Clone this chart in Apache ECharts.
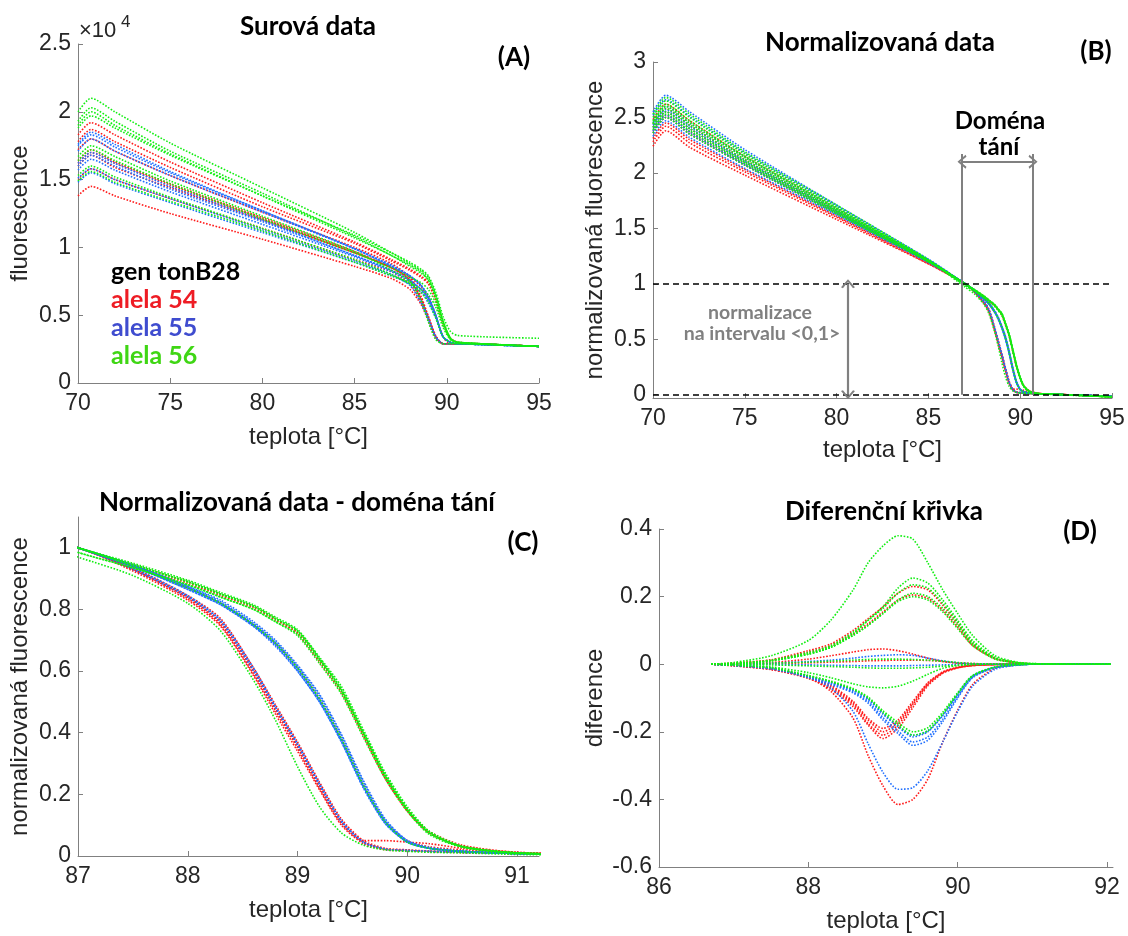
<!DOCTYPE html>
<html><head><meta charset="utf-8">
<script src="https://cdn.jsdelivr.net/npm/echarts@6/dist/echarts.min.js"></script>
<style>html,body{margin:0;padding:0;background:#fff}#c{width:1128px;height:936px}</style>
</head><body><div id="c"></div><script>
// ---------- DATA ----------
// Panel A: raw fluorescence (x10^4)
const tempsRaw = [70, 70.7, 72, 75, 80, 85, 87, 88, 88.6, 89, 89.4, 89.8, 90.2, 90.6, 95];
const rawRed = [
  [1.83, 1.92, 1.83, 1.63, 1.33, 1.04, 0.91, 0.84, 0.79, 0.74, 0.62, 0.44, 0.33, 0.30, 0.27],
  [1.78, 1.87, 1.78, 1.59, 1.30, 1.03, 0.90, 0.83, 0.78, 0.73, 0.61, 0.44, 0.33, 0.30, 0.27],
  [1.72, 1.80, 1.71, 1.53, 1.26, 1.00, 0.88, 0.78, 0.64, 0.49, 0.35, 0.29, 0.29, 0.29, 0.27],
  [1.64, 1.72, 1.63, 1.47, 1.22, 0.97, 0.85, 0.76, 0.62, 0.49, 0.34, 0.29, 0.29, 0.29, 0.27],
  [1.62, 1.70, 1.62, 1.46, 1.21, 0.96, 0.85, 0.76, 0.62, 0.48, 0.34, 0.29, 0.29, 0.29, 0.27],
  [1.60, 1.68, 1.59, 1.44, 1.20, 0.96, 0.85, 0.78, 0.71, 0.63, 0.50, 0.34, 0.29, 0.29, 0.27],
  [1.50, 1.58, 1.50, 1.36, 1.14, 0.91, 0.82, 0.73, 0.60, 0.47, 0.34, 0.29, 0.29, 0.29, 0.27],
  [1.38, 1.45, 1.38, 1.25, 1.06, 0.86, 0.77, 0.69, 0.58, 0.46, 0.33, 0.29, 0.29, 0.29, 0.27]
];
const rawBlue = [
  [1.76, 1.85, 1.76, 1.56, 1.27, 0.99, 0.86, 0.79, 0.72, 0.63, 0.50, 0.34, 0.30, 0.29, 0.27],
  [1.75, 1.83, 1.74, 1.55, 1.27, 0.99, 0.86, 0.79, 0.72, 0.64, 0.50, 0.34, 0.30, 0.29, 0.27],
  [1.71, 1.80, 1.71, 1.53, 1.26, 0.99, 0.87, 0.79, 0.72, 0.64, 0.50, 0.34, 0.30, 0.29, 0.27],
  [1.62, 1.70, 1.62, 1.45, 1.20, 0.94, 0.83, 0.75, 0.61, 0.48, 0.34, 0.29, 0.29, 0.29, 0.27],
  [1.60, 1.68, 1.60, 1.43, 1.19, 0.94, 0.83, 0.76, 0.69, 0.62, 0.49, 0.34, 0.30, 0.29, 0.27],
  [1.57, 1.65, 1.57, 1.41, 1.17, 0.93, 0.82, 0.75, 0.69, 0.61, 0.49, 0.34, 0.30, 0.29, 0.27],
  [1.51, 1.58, 1.50, 1.36, 1.13, 0.90, 0.80, 0.72, 0.59, 0.47, 0.34, 0.29, 0.29, 0.29, 0.27],
  [1.48, 1.55, 1.47, 1.33, 1.11, 0.89, 0.79, 0.73, 0.67, 0.59, 0.48, 0.34, 0.30, 0.29, 0.27]
];
const rawGreen = [
  [2.00, 2.10, 2.00, 1.77, 1.44, 1.11, 0.96, 0.88, 0.83, 0.78, 0.65, 0.46, 0.33, 0.30, 0.27],
  [1.93, 2.03, 1.93, 1.71, 1.40, 1.08, 0.94, 0.87, 0.82, 0.76, 0.64, 0.45, 0.33, 0.30, 0.27],
  [1.90, 2.00, 1.90, 1.69, 1.38, 1.07, 0.94, 0.86, 0.81, 0.76, 0.63, 0.45, 0.33, 0.30, 0.27],
  [1.88, 1.97, 1.88, 1.68, 1.38, 1.09, 0.96, 0.89, 0.84, 0.79, 0.67, 0.49, 0.38, 0.35, 0.33],
  [1.67, 1.75, 1.67, 1.49, 1.23, 0.97, 0.83, 0.75, 0.61, 0.45, 0.32, 0.29, 0.29, 0.29, 0.27],
  [1.64, 1.72, 1.64, 1.47, 1.21, 0.96, 0.85, 0.78, 0.74, 0.69, 0.59, 0.43, 0.32, 0.30, 0.27],
  [1.53, 1.60, 1.52, 1.37, 1.14, 0.91, 0.80, 0.73, 0.67, 0.60, 0.48, 0.34, 0.30, 0.29, 0.27],
  [1.49, 1.56, 1.48, 1.34, 1.12, 0.89, 0.79, 0.74, 0.69, 0.65, 0.56, 0.41, 0.32, 0.30, 0.27]
];

// Panels B and C: normalized fluorescence
const tempsNorm = [70, 70.7, 72, 75, 80, 85, 87, 87.5, 88, 88.3, 88.6, 88.8, 89, 89.2, 89.4, 89.6, 89.8, 90, 90.2, 90.5, 91, 92, 95];
const normRed = [
  [2.48, 2.62, 2.47, 2.15, 1.68, 1.21, 1.0, 0.945, 0.89, 0.85, 0.81, 0.77, 0.72, 0.63, 0.53, 0.39, 0.25, 0.145, 0.075, 0.032, 0.012, 0.004, -0.02],
  [2.44, 2.58, 2.43, 2.12, 1.66, 1.21, 1.0, 0.94, 0.885, 0.845, 0.805, 0.765, 0.725, 0.635, 0.535, 0.395, 0.255, 0.15, 0.08, 0.035, 0.012, 0.004, -0.02],
  [2.41, 2.55, 2.40, 2.10, 1.65, 1.20, 1.0, 0.93, 0.84, 0.76, 0.60, 0.48, 0.36, 0.23, 0.11, 0.045, 0.022, 0.018, 0.015, 0.012, 0.008, 0.002, -0.015],
  [2.38, 2.52, 2.37, 2.08, 1.64, 1.20, 1.0, 0.93, 0.835, 0.75, 0.59, 0.47, 0.35, 0.22, 0.105, 0.05, 0.05, 0.045, 0.04, 0.025, 0.01, 0.003, -0.015],
  [2.36, 2.50, 2.35, 2.07, 1.63, 1.20, 1.0, 0.935, 0.845, 0.77, 0.61, 0.49, 0.37, 0.24, 0.12, 0.05, 0.025, 0.02, 0.016, 0.012, 0.008, 0.002, -0.015],
  [2.31, 2.45, 2.30, 2.03, 1.61, 1.19, 1.0, 0.94, 0.87, 0.82, 0.75, 0.69, 0.61, 0.51, 0.38, 0.23, 0.11, 0.05, 0.03, 0.02, 0.01, 0.003, -0.015],
  [2.28, 2.42, 2.27, 2.01, 1.60, 1.18, 1.0, 0.925, 0.83, 0.745, 0.585, 0.46, 0.34, 0.215, 0.10, 0.04, 0.02, 0.017, 0.014, 0.011, 0.008, 0.002, -0.015],
  [2.24, 2.38, 2.23, 1.98, 1.58, 1.18, 1.0, 0.93, 0.84, 0.755, 0.60, 0.475, 0.355, 0.225, 0.11, 0.045, 0.022, 0.018, 0.015, 0.012, 0.008, 0.002, -0.015]
];
const normBlue = [
  [2.55, 2.70, 2.55, 2.21, 1.71, 1.22, 1.0, 0.94, 0.87, 0.82, 0.75, 0.69, 0.61, 0.51, 0.38, 0.23, 0.11, 0.045, 0.025, 0.015, 0.008, 0.002, -0.015],
  [2.52, 2.66, 2.51, 2.18, 1.70, 1.22, 1.0, 0.945, 0.875, 0.825, 0.755, 0.695, 0.615, 0.52, 0.39, 0.24, 0.115, 0.05, 0.025, 0.015, 0.008, 0.002, -0.015],
  [2.45, 2.60, 2.45, 2.14, 1.67, 1.21, 1.0, 0.94, 0.865, 0.815, 0.745, 0.68, 0.60, 0.50, 0.37, 0.22, 0.105, 0.045, 0.025, 0.015, 0.008, 0.002, -0.015],
  [2.43, 2.57, 2.42, 2.11, 1.66, 1.20, 1.0, 0.935, 0.845, 0.765, 0.61, 0.485, 0.365, 0.235, 0.115, 0.045, 0.022, 0.018, 0.015, 0.012, 0.008, 0.002, -0.015],
  [2.41, 2.55, 2.40, 2.10, 1.65, 1.20, 1.0, 0.94, 0.87, 0.82, 0.75, 0.685, 0.605, 0.505, 0.375, 0.225, 0.11, 0.045, 0.025, 0.015, 0.008, 0.002, -0.015],
  [2.38, 2.52, 2.37, 2.08, 1.64, 1.20, 1.0, 0.945, 0.875, 0.83, 0.76, 0.70, 0.62, 0.525, 0.395, 0.245, 0.12, 0.05, 0.028, 0.016, 0.008, 0.002, -0.015],
  [2.36, 2.50, 2.35, 2.07, 1.63, 1.20, 1.0, 0.93, 0.84, 0.76, 0.60, 0.48, 0.36, 0.23, 0.11, 0.045, 0.022, 0.018, 0.015, 0.012, 0.008, 0.002, -0.015],
  [2.33, 2.47, 2.32, 2.04, 1.62, 1.19, 1.0, 0.94, 0.865, 0.815, 0.745, 0.685, 0.60, 0.50, 0.37, 0.225, 0.105, 0.045, 0.025, 0.015, 0.008, 0.002, -0.015]
];
const normGreen = [
  [2.53, 2.68, 2.53, 2.19, 1.71, 1.22, 1.0, 0.945, 0.89, 0.85, 0.81, 0.77, 0.73, 0.64, 0.54, 0.40, 0.26, 0.15, 0.075, 0.03, 0.01, 0.003, -0.02],
  [2.50, 2.65, 2.50, 2.17, 1.69, 1.21, 0.985, 0.935, 0.88, 0.84, 0.80, 0.76, 0.72, 0.635, 0.535, 0.40, 0.265, 0.155, 0.08, 0.032, 0.01, 0.003, -0.02],
  [2.47, 2.62, 2.47, 2.15, 1.68, 1.21, 1.0, 0.95, 0.895, 0.855, 0.815, 0.775, 0.735, 0.645, 0.55, 0.41, 0.27, 0.16, 0.08, 0.032, 0.01, 0.003, -0.02],
  [2.45, 2.60, 2.45, 2.14, 1.67, 1.21, 0.985, 0.935, 0.88, 0.84, 0.80, 0.76, 0.715, 0.625, 0.525, 0.385, 0.25, 0.145, 0.07, 0.028, 0.01, 0.003, -0.02],
  [2.44, 2.58, 2.43, 2.12, 1.66, 1.21, 0.97, 0.91, 0.82, 0.73, 0.57, 0.44, 0.29, 0.16, 0.075, 0.035, 0.02, 0.015, 0.012, 0.01, 0.005, 0.0, -0.02],
  [2.41, 2.55, 2.40, 2.10, 1.65, 1.20, 1.0, 0.945, 0.89, 0.85, 0.81, 0.77, 0.73, 0.64, 0.54, 0.40, 0.26, 0.15, 0.075, 0.03, 0.01, 0.003, -0.02],
  [2.39, 2.53, 2.38, 2.09, 1.64, 1.20, 1.0, 0.94, 0.87, 0.82, 0.75, 0.69, 0.61, 0.51, 0.38, 0.23, 0.11, 0.045, 0.025, 0.015, 0.008, 0.002, -0.015],
  [2.36, 2.50, 2.35, 2.07, 1.63, 1.20, 1.0, 0.945, 0.89, 0.85, 0.81, 0.77, 0.73, 0.64, 0.54, 0.40, 0.26, 0.15, 0.075, 0.03, 0.01, 0.003, -0.02]
];

// Panel D: difference curves
const tempsDiff = [86.7, 87, 87.5, 88, 88.3, 88.6, 88.8, 89, 89.2, 89.4, 89.6, 89.8, 90, 90.2, 90.5, 90.8, 91, 91.5, 92.05];
const diffRed = [
  [0, 0.003, 0.013, 0.04, 0.06, 0.1, 0.135, 0.17, 0.21, 0.23, 0.22, 0.175, 0.12, 0.06, 0.018, 0.004, 0.001, 0, 0],
  [0, 0.003, 0.012, 0.035, 0.055, 0.09, 0.12, 0.155, 0.19, 0.205, 0.195, 0.16, 0.11, 0.055, 0.016, 0.004, 0.001, 0, 0],
  [0, 0, 0.005, 0.015, 0.025, 0.036, 0.043, 0.045, 0.04, 0.03, 0.018, 0.008, 0.003, 0.001, 0, 0, 0, 0, 0],
  [0, 0, 0.002, 0.004, 0.006, 0.008, 0.01, 0.011, 0.012, 0.012, 0.011, 0.008, 0.004, 0.002, 0, 0, 0, 0, 0],
  [0, -0.004, -0.015, -0.04, -0.07, -0.12, -0.175, -0.21, -0.18, -0.12, -0.06, -0.025, -0.01, -0.004, -0.001, 0, 0, 0, 0],
  [0, -0.004, -0.014, -0.038, -0.066, -0.115, -0.165, -0.2, -0.172, -0.115, -0.057, -0.024, -0.01, -0.004, -0.001, 0, 0, 0, 0],
  [0, -0.005, -0.016, -0.042, -0.074, -0.126, -0.18, -0.22, -0.19, -0.128, -0.064, -0.027, -0.011, -0.004, -0.001, 0, 0, 0, 0],
  [0, -0.004, -0.013, -0.036, -0.062, -0.11, -0.16, -0.19, -0.165, -0.11, -0.055, -0.023, -0.009, -0.003, -0.001, 0, 0, 0, 0],
  [0, -0.004, -0.015, -0.04, -0.08, -0.16, -0.27, -0.36, -0.415, -0.40, -0.34, -0.23, -0.136, -0.06, -0.012, -0.002, 0, 0, 0]
];
const diffBlue = [
  [0, 0, 0.003, 0.008, 0.012, 0.018, 0.023, 0.026, 0.028, 0.026, 0.018, 0.01, 0.004, 0.001, 0, 0, 0, 0, 0],
  [0, 0, -0.001, -0.002, -0.003, -0.004, -0.005, -0.005, -0.005, -0.004, -0.003, -0.002, -0.001, 0, 0, 0, 0, 0, 0],
  [0, -0.004, -0.014, -0.037, -0.07, -0.14, -0.235, -0.32, -0.37, -0.365, -0.315, -0.23, -0.14, -0.065, -0.015, -0.003, 0, 0, 0],
  [0, -0.003, -0.012, -0.04, -0.06, -0.085, -0.115, -0.165, -0.205, -0.24, -0.225, -0.17, -0.1, -0.04, -0.01, -0.002, 0, 0, 0],
  [0, -0.003, -0.012, -0.038, -0.057, -0.082, -0.11, -0.158, -0.197, -0.23, -0.215, -0.163, -0.096, -0.038, -0.01, -0.002, 0, 0, 0],
  [0, -0.003, -0.011, -0.036, -0.054, -0.078, -0.104, -0.148, -0.185, -0.215, -0.2, -0.152, -0.09, -0.035, -0.009, -0.002, 0, 0, 0],
  [0, -0.003, -0.011, -0.036, -0.053, -0.077, -0.102, -0.146, -0.182, -0.21, -0.197, -0.15, -0.088, -0.035, -0.009, -0.002, 0, 0, 0]
];
const diffGreen = [
  [0, 0.005, 0.025, 0.07, 0.13, 0.22, 0.30, 0.35, 0.38, 0.37, 0.30, 0.22, 0.15, 0.085, 0.025, 0.006, 0.002, 0, 0],
  [0, 0.002, 0.01, 0.03, 0.05, 0.09, 0.13, 0.17, 0.225, 0.255, 0.24, 0.19, 0.13, 0.07, 0.02, 0.005, 0.002, 0, 0],
  [0, 0.002, 0.012, 0.035, 0.055, 0.095, 0.13, 0.165, 0.21, 0.235, 0.225, 0.18, 0.125, 0.065, 0.018, 0.004, 0.001, 0, 0],
  [0, 0.002, 0.01, 0.03, 0.05, 0.085, 0.115, 0.15, 0.19, 0.21, 0.2, 0.165, 0.115, 0.06, 0.017, 0.004, 0.001, 0, 0],
  [0, 0.002, 0.01, 0.03, 0.05, 0.085, 0.115, 0.15, 0.185, 0.2, 0.19, 0.155, 0.105, 0.055, 0.015, 0.004, 0.001, 0, 0],
  [0, 0, 0.003, 0.006, 0.009, 0.012, 0.014, 0.015, 0.015, 0.014, 0.012, 0.009, 0.005, 0.002, 0, 0, 0, 0, 0],
  [0, 0, -0.002, -0.005, -0.007, -0.009, -0.011, -0.012, -0.012, -0.011, -0.009, -0.006, -0.003, -0.001, 0, 0, 0, 0, 0],
  [0, -0.002, -0.008, -0.025, -0.04, -0.058, -0.067, -0.07, -0.065, -0.05, -0.03, -0.012, -0.004, -0.001, 0, 0, 0, 0, 0],
  [0, -0.003, -0.01, -0.033, -0.05, -0.072, -0.097, -0.138, -0.172, -0.2, -0.188, -0.142, -0.084, -0.033, -0.008, -0.002, 0, 0, 0],
  [0, -0.003, -0.011, -0.035, -0.052, -0.075, -0.1, -0.143, -0.18, -0.21, -0.197, -0.148, -0.088, -0.035, -0.009, -0.002, 0, 0, 0]
];

// Axis ticks
const ticksA_x = [70, 75, 80, 85, 90, 95];
const ticksA_y = [0, 0.5, 1, 1.5, 2, 2.5];
const ticksB_x = [70, 75, 80, 85, 90, 95];
const ticksB_y = [0, 0.5, 1, 1.5, 2, 2.5, 3];
const ticksC_x = [87, 88, 89, 90, 91];
const ticksC_y = [0, 0.2, 0.4, 0.6, 0.8, 1];
const ticksD_x = [86, 88, 90, 92];
const ticksD_y = [-0.6, -0.4, -0.2, 0, 0.2, 0.4];

// Annotation positions (data units, panel B)
const refLevels = [0, 1];
const domainEdges = [86.83, 90.7];
const domainTop = 2.17;
const domainArrowY = 2.10;
const normArrowX = 80.62;

// ---------- CHART ----------
const FONT = '"Liberation Sans", Arial, sans-serif';
const TFONT = 'Lato, "Open Sans", sans-serif';
const COL = { red: '#ff1a1a', blue: '#1f6fff', green: '#11ee11' };
const AX = '#808080', TXT = '#262626';

function xAx(gi, min, max, ticks, nameGap) {
  return {
    type: 'value', gridIndex: gi, min: min, max: max,
    name: 'teplota [°C]', nameLocation: 'middle', nameGap: nameGap,
    nameTextStyle: { fontSize: 24, color: TXT, fontFamily: FONT },
    axisLine: { show: true, onZero: false, lineStyle: { color: AX, width: 1 } },
    axisTick: { show: true, inside: true, length: 5, lineStyle: { color: AX }, customValues: ticks },
    axisLabel: { fontSize: 23, color: TXT, fontFamily: FONT, margin: 9, customValues: ticks },
    splitLine: { show: false }
  };
}
function yAx(gi, min, max, ticks, name, nameGap) {
  return {
    type: 'value', gridIndex: gi, min: min, max: max,
    name: name, nameLocation: 'middle', nameGap: nameGap, nameRotate: 90,
    nameTextStyle: { fontSize: 24, color: TXT, fontFamily: FONT },
    axisLine: { show: true, onZero: false, lineStyle: { color: AX, width: 1 } },
    axisTick: { show: true, inside: true, length: 5, lineStyle: { color: AX }, customValues: ticks },
    axisLabel: { fontSize: 23, color: TXT, fontFamily: FONT, margin: 7, customValues: ticks },
    splitLine: { show: false }
  };
}
function curve(gi, temps, vals, color) {
  return {
    type: 'line', xAxisIndex: gi, yAxisIndex: gi,
    data: temps.map(function (t, i) { return [t, vals[i]]; }),
    symbol: 'none', showSymbol: false, smooth: 0.25,
    lineStyle: { color: color, width: 1.6, type: [1.6, 1.6] },
    silent: true, animation: false, z: 2
  };
}
const series = [];
function addGroup(gi, temps, groups) {
  groups.forEach(function (g) { g[0].forEach(function (v) { series.push(curve(gi, temps, v, g[1])); }); });
}
addGroup(0, tempsRaw, [[rawRed, COL.red], [rawBlue, COL.blue], [rawGreen, COL.green]]);
addGroup(1, tempsNorm, [[normRed, COL.red], [normBlue, COL.blue], [normGreen, COL.green]]);
addGroup(2, tempsNorm, [[normRed, COL.red], [normBlue, COL.blue], [normGreen, COL.green]]);
addGroup(3, tempsDiff, [[diffRed, COL.red], [diffBlue, COL.blue], [diffGreen, COL.green]]);

const chevron = 'path://M5,0 L10,8 L8.6,8.9 L5,2.8 L1.4,8.9 L0,8 Z';
series.push({
  type: 'line', xAxisIndex: 1, yAxisIndex: 1, data: [], silent: true, animation: false, z: 5,
  markLine: {
    silent: true, symbol: 'none', label: { show: false },
    lineStyle: { color: '#000', width: 1.6, type: [6, 4] },
    data: refLevels.map(function (v) { return { yAxis: v }; })
  }
});
series.push({
  type: 'line', xAxisIndex: 1, yAxisIndex: 1, data: [], silent: true, animation: false, z: 6,
  markLine: {
    silent: true, symbol: 'none', label: { show: false },
    lineStyle: { color: '#808080', width: 2, type: 'solid' },
    data: domainEdges.map(function (x) { return [{ coord: [x, refLevels[0]] }, { coord: [x, domainTop] }]; })
  }
});
series.push({
  type: 'line', xAxisIndex: 1, yAxisIndex: 1, data: [], silent: true, animation: false, z: 6,
  markLine: {
    silent: true, symbol: [chevron, chevron], symbolSize: [14, 9], label: { show: false },
    lineStyle: { color: '#808080', width: 2.2, type: 'solid' },
    itemStyle: { color: '#808080' },
    data: [
      [{ coord: [domainEdges[0], domainArrowY] }, { coord: [domainEdges[1], domainArrowY] }],
      [{ coord: [normArrowX, refLevels[1]] }, { coord: [normArrowX, refLevels[0]] }]
    ]
  }
});

function txt(x, y, s, font, fill, align) {
  return { type: 'text', x: x, y: y, silent: true, z: 10,
    style: { text: s, font: font, fill: fill || '#000', align: align || 'center', verticalAlign: 'middle' } };
}
const TB = 'bold 26px ' + TFONT;
const graphics = [
  txt(308, 27, 'Surová data', TB),
  txt(880, 43, 'Normalizovaná data', TB),
  txt(297, 503, 'Normalizovaná data - doména tání', TB),
  txt(884, 512, 'Diferenční křivka', TB),
  txt(514, 58, '(A)', TB),
  txt(1096, 52, '(B)', TB),
  txt(523, 543, '(C)', TB),
  txt(1080, 532, '(D)', TB),
  txt(79, 31, '×10', '22px ' + FONT, TXT, 'left'),
  txt(121, 22, '4', '17px ' + FONT, TXT, 'left'),
  txt(111, 272, 'gen tonB28', 'bold 25px ' + TFONT, '#000', 'left'),
  txt(111, 300, 'alela 54', 'bold 25px ' + TFONT, '#ee1c24', 'left'),
  txt(111, 328, 'alela 55', 'bold 25px ' + TFONT, '#3f4ccf', 'left'),
  txt(111, 356, 'alela 56', 'bold 25px ' + TFONT, '#3fd614', 'left'),
  txt(1000, 121, 'Doména', 'bold 24px ' + TFONT),
  txt(999, 147, 'tání', 'bold 24px ' + TFONT),
  txt(760, 313, 'normalizace', 'bold 19.5px ' + TFONT, '#808080'),
  txt(762, 334, 'na intervalu <0,1>', 'bold 19.5px ' + TFONT, '#808080')
];

const chart = echarts.init(document.getElementById('c'), null, { renderer: 'canvas' });
chart.setOption({
  backgroundColor: '#fff',
  animation: false,
  grid: [
    { left: 78, top: 44, width: 461, height: 339 },
    { left: 653, top: 62, width: 459, height: 336 },
    { left: 78, top: 517, width: 461, height: 339 },
    { left: 659, top: 529, width: 454, height: 338 }
  ],
  xAxis: [
    xAx(0, 70, 95, ticksA_x, 42),
    xAx(1, 70, 95, ticksB_x, 40),
    xAx(2, 87, 91.2, ticksC_x, 42),
    xAx(3, 86, 92.08, ticksD_x, 42)
  ],
  yAxis: [
    yAx(0, 0, 2.5, ticksA_y, 'fluorescence', 46),
    yAx(1, -0.03, 3, ticksB_y, 'normalizovaná fluorescence', 46),
    yAx(2, 0, 1.1, ticksC_y, 'normalizovaná fluorescence', 46),
    yAx(3, -0.6, 0.4, ticksD_y, 'diference', 52)
  ],
  series: series,
  graphic: graphics
});
</script></body></html>
